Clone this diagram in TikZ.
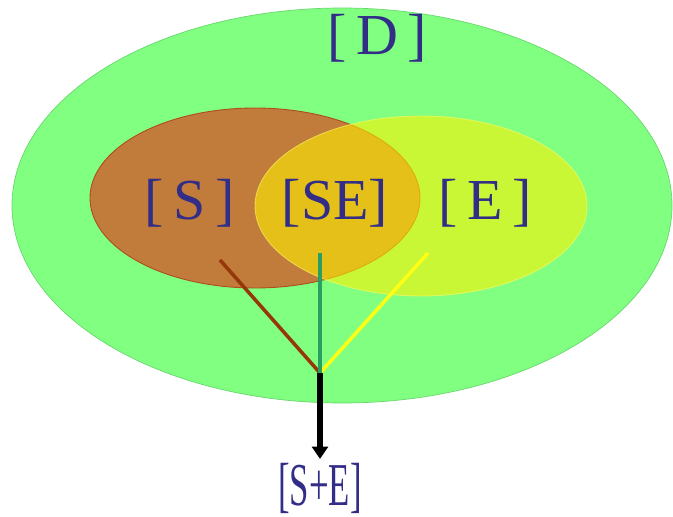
\documentclass[tikz,border=0pt]{standalone}
\usepackage{fontspec}
\setmainfont{Liberation Serif}
\usepackage{graphicx}
\usetikzlibrary{arrows.meta}

\definecolor{dgreen}{RGB}{128,255,128}
\definecolor{dgreenline}{RGB}{105,215,110}
\definecolor{sbrown}{RGB}{193,123,58}
\definecolor{sbrownline}{RGB}{175,75,30}
\definecolor{eyellow}{RGB}{255,242,0}
\definecolor{labblue}{RGB}{50,45,135}
\definecolor{brownleg}{RGB}{150,55,10}
\definecolor{greenleg}{RGB}{40,160,95}
\definecolor{yellowleg}{RGB}{255,255,20}

\begin{document}
\begin{tikzpicture}[x=0.02cm, y=-0.02cm,
    lab/.style={text=labblue, inner sep=0pt, font=\fontsize{33}{38}\selectfont},
    leg/.style={line width=2pt}]
      \useasboundingbox (0,0) rectangle (673,517);

      % sets
      \filldraw[fill=dgreen, draw=dgreenline, line width=0.4pt] (342,205.5) ellipse [x radius=330, y radius=197.5];
      \filldraw[fill=sbrown, draw=sbrownline, line width=0.5pt] (255,198) ellipse [x radius=165, y radius=90];
      \filldraw[fill=eyellow, fill opacity=0.58, draw=yellow!60!white, draw opacity=0.6, line width=0.5pt] (421,206) ellipse [x radius=166, y radius=90];

      \node[lab] (D) at (377,38) {[\,D\,]};
      \node[lab] (S) at (190,203) {[\,S\,]};
      \node[lab] (SE) at (335,203) {[SE]};
      \node[lab] (E) at (485,203) {[\,E\,]};
      \node[lab] (SplusE) at (320,488) {\scalebox{0.6}[1.05]{[S+E]}};

      \coordinate (sfoot) at (220,260);
      \coordinate (sefoot) at (320,253);
      \coordinate (efoot) at (428,253);
      \coordinate (join) at (320,373);

      \draw[leg, brownleg] (sfoot) -- (join);
      \draw[leg, yellowleg] (efoot) -- (join);
      \draw[leg, greenleg] (sefoot) -- (join);
      \draw[line width=3pt, -{Triangle[length=7pt, width=9pt]}] (join) -- ([yshift=2pt]SplusE.north);
    \end{tikzpicture}
\end{document}
